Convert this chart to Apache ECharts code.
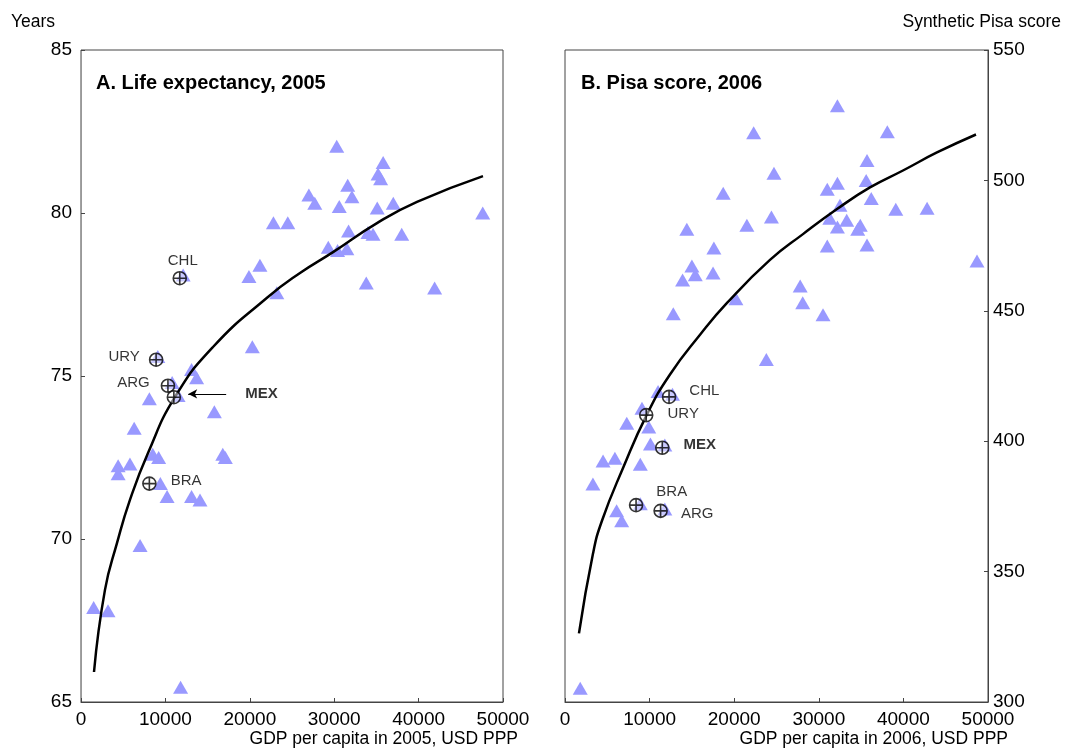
<!DOCTYPE html>
<html>
<head>
<meta charset="utf-8">
<script src="https://cdn.jsdelivr.net/npm/echarts@6/dist/echarts.min.js"></script>
<style>
  html, body { margin: 0; padding: 0; background: #fff; }
  #chart { width: 1065px; height: 751px; }
</style>
</head>
<body>
<div id="chart"></div>
<script>
// Panel A: life expectancy 2005 vs GDP per capita
var lifePoints = [
  [1500, 67.9], [3200, 67.8], [4400, 72.25], [5800, 72.3], [4400, 72.0], [7000, 69.8],
  [11800, 65.45], [6300, 73.4], [8100, 74.3], [9100, 75.6], [13100, 75.2], [13700, 74.95],
  [10800, 74.8], [11500, 74.4], [20300, 75.9], [15800, 73.9], [16800, 72.6], [17100, 72.5],
  [8500, 72.6], [9200, 72.5], [9400, 71.7], [10200, 71.3], [13100, 71.3], [14100, 71.2],
  [12100, 78.1], [21200, 78.4], [19900, 78.05], [23200, 77.55], [22800, 79.7], [24500, 79.7],
  [27000, 80.55], [27700, 80.3], [30300, 82.05], [35800, 81.55], [35200, 81.2], [35500, 81.05],
  [31600, 80.85], [32100, 80.5], [30600, 80.2], [35100, 80.15], [37000, 80.3], [47600, 80.0],
  [31700, 79.45], [34000, 79.4], [34600, 79.35], [38000, 79.35], [29300, 78.95], [30400, 78.85],
  [31500, 78.9], [33800, 77.85], [41900, 77.7]
];
var lifeFit = [
  [1540, 65.92], [2840, 68.44], [4270, 69.88], [5800, 71.2], [7940, 72.64], [11140, 74.36],
  [15640, 75.89], [22040, 77.4], [25950, 78.16], [29860, 78.8], [35070, 79.69], [39810, 80.34],
  [47630, 81.13]
];
var lifeCountries = ['CHL', 'URY', 'ARG', 'MEX', 'BRA'];
var lifeCountryX = [11700, 8900, 10300, 11000, 8100];
var lifeCountryY = [78.0, 75.5, 74.7, 74.35, 71.7];
var mexArrow = [[17200, 74.45], [12700, 74.45]];

// Panel B: synthetic Pisa score 2006 vs GDP per capita
var pisaPoints = [
  [1800, 305.3], [6100, 373.3], [6700, 369.5], [8900, 376], [11800, 374], [12800, 448.9],
  [20200, 454.6], [23800, 431.3], [12700, 418], [11000, 419.1], [9100, 412.6], [7300, 406.9],
  [9900, 405.4], [10100, 398.9], [11800, 398.5], [4500, 392.4], [5900, 393.5], [8900, 391.2],
  [3300, 383.6], [22300, 518.3], [24700, 502.7], [18700, 495.1], [14400, 481.3], [21500, 482.8],
  [24400, 486], [17600, 474.1], [15000, 467.2], [15400, 463.8], [17500, 464.5], [13900, 461.8],
  [32200, 528.6], [38100, 518.7], [35700, 507.6], [35600, 500], [32200, 498.9], [31000, 496.6],
  [36200, 493.1], [32500, 490.5], [39100, 488.9], [42800, 489.3], [31300, 485.5], [33300, 484.7],
  [32200, 482.1], [34900, 482.8], [34600, 481.3], [31000, 474.8], [35700, 475.2], [48700, 469.1],
  [27800, 459.5], [28100, 453.1], [30500, 448.5]
];
var pisaFit = [
  [1650, 326.3], [3310, 356.9], [4370, 369.5], [6860, 389.7], [9690, 410.3], [12410, 425.6],
  [15960, 440.8], [19150, 453.0], [24230, 469.5], [28130, 479.4], [32150, 489], [36050, 497.3],
  [39950, 503.8], [43970, 510.7], [48580, 517.6]
];
var pisaCountries = ['CHL', 'URY', 'MEX', 'BRA', 'ARG'];
var pisaCountryX = [12300, 9600, 11500, 8400, 11300];
var pisaCountryY = [417, 410, 397.5, 375.5, 373.3];

var FONT = '"Liberation Sans", Arial, sans-serif';
var TRI = '#9999ff';
var markerPath = 'path://M0,-6A6,6 0 1,1 0,6A6,6 0 1,1 0,-6ZM-6,0L6,0M0,-6L0,6';

// label placement (style only)
var lifeLabelPos = {
  CHL: { position: 'top', distance: 3, offset: [3, 0] },
  URY: { position: 'left', distance: 9, offset: [0, -3] },
  ARG: { position: 'left', distance: 11, offset: [0, -3] },
  MEX: { position: 'right', distance: 64, offset: [0, -3], fontWeight: 'bold' },
  BRA: { position: 'right', distance: 14, offset: [0, -3] }
};
var pisaLabelPos = {
  CHL: { position: 'right', distance: 13, offset: [0, -6] },
  URY: { position: 'right', distance: 14, offset: [0, -1] },
  MEX: { position: 'right', distance: 14, offset: [0, -3], fontWeight: 'bold' },
  BRA: { position: 'right', distance: 13, offset: [0, -13] },
  ARG: { position: 'right', distance: 13, offset: [0, 3] }
};

function countryData(names, xs, ys, pos) {
  return names.map(function (n, i) {
    var p = pos[n];
    return {
      name: n,
      value: [xs[i], ys[i]],
      label: {
        show: true, formatter: n, position: p.position, distance: p.distance,
        offset: p.offset, fontWeight: p.fontWeight || 'normal',
        color: '#000', fontSize: 15, fontFamily: FONT
      }
    };
  });
}

var axisLine = { show: true, onZero: false, lineStyle: { color: '#444', width: 1 } };
var tick = { show: true, inside: true, length: 4, lineStyle: { color: '#444' } };
var tickLabel = { color: '#000', fontSize: 19, fontFamily: FONT };

function xAxis(grid) {
  return {
    type: 'value', gridIndex: grid, min: 0, max: 50000, interval: 10000,
    axisLine: axisLine, axisTick: tick, splitLine: { show: false },
    axisLabel: Object.assign({ margin: 8, formatter: function (v) { return String(v); } }, tickLabel)
  };
}

var nameStyle = { fontSize: 17.5, fontFamily: FONT, fill: '#000' };

var chart = echarts.init(document.getElementById('chart'));
chart.setOption({
  animation: false,
  backgroundColor: '#fff',
  textStyle: { fontFamily: FONT },
  grid: [
    { left: 81, right: 562, top: 50, bottom: 49, show: true, borderColor: '#444', borderWidth: 1 },
    { left: 565, right: 77, top: 50, bottom: 49, show: true, borderColor: '#444', borderWidth: 1 }
  ],
  title: [
    { text: 'A. Life expectancy, 2005', left: 91, top: 68,
      textStyle: { fontSize: 20, fontWeight: 'bold', color: '#000', fontFamily: FONT } },
    { text: 'B. Pisa score, 2006', left: 576, top: 68,
      textStyle: { fontSize: 20, fontWeight: 'bold', color: '#000', fontFamily: FONT } }
  ],
  graphic: [
    { type: 'text', left: 11, top: 13, style: Object.assign({ text: 'Years' }, nameStyle) },
    { type: 'text', right: 4, top: 13, style: Object.assign({ text: 'Synthetic Pisa score' }, nameStyle) },
    { type: 'text', right: 547, top: 730, style: Object.assign({ text: 'GDP per capita in 2005, USD PPP' }, nameStyle) },
    { type: 'text', right: 57, top: 730, style: Object.assign({ text: 'GDP per capita in 2006, USD PPP' }, nameStyle) }
  ],
  xAxis: [xAxis(0), xAxis(1)],
  yAxis: [
    { type: 'value', gridIndex: 0, min: 65, max: 85, interval: 5,
      axisLine: { show: true, onZero: false, lineStyle: { color: '#999', width: 1 } },
      axisTick: tick, splitLine: { show: false },
      axisLabel: Object.assign({ margin: 9 }, tickLabel) },
    { type: 'value', gridIndex: 1, position: 'right', min: 300, max: 550, interval: 50,
      axisLine: axisLine, axisTick: tick, splitLine: { show: false },
      axisLabel: Object.assign({ margin: 5 }, tickLabel) }
  ],
  series: [
    { type: 'scatter', xAxisIndex: 0, yAxisIndex: 0, data: lifePoints,
      symbol: 'triangle', symbolSize: [15, 13], itemStyle: { color: TRI, opacity: 1 }, z: 2 },
    { type: 'line', xAxisIndex: 0, yAxisIndex: 0, data: lifeFit, smooth: true, showSymbol: false,
      lineStyle: { color: '#000', width: 2.5 }, z: 3 },
    { type: 'scatter', xAxisIndex: 0, yAxisIndex: 0,
      data: countryData(lifeCountries, lifeCountryX, lifeCountryY, lifeLabelPos),
      symbol: markerPath, symbolSize: 13,
      itemStyle: { color: 'rgba(255,255,255,0.6)', borderColor: '#000', borderWidth: 1.6 }, z: 4,
      markLine: {
        silent: true, symbol: ['none', 'arrow'], symbolSize: [7, 9],
        lineStyle: { color: '#000', width: 1, type: 'solid' }, label: { show: false },
        data: [[{ coord: mexArrow[0] }, { coord: mexArrow[1] }]]
      } },
    { type: 'scatter', xAxisIndex: 1, yAxisIndex: 1, data: pisaPoints,
      symbol: 'triangle', symbolSize: [15, 13], itemStyle: { color: TRI, opacity: 1 }, z: 2 },
    { type: 'line', xAxisIndex: 1, yAxisIndex: 1, data: pisaFit, smooth: true, showSymbol: false,
      lineStyle: { color: '#000', width: 2.5 }, z: 3 },
    { type: 'scatter', xAxisIndex: 1, yAxisIndex: 1,
      data: countryData(pisaCountries, pisaCountryX, pisaCountryY, pisaLabelPos),
      symbol: markerPath, symbolSize: 13,
      itemStyle: { color: 'rgba(255,255,255,0.6)', borderColor: '#000', borderWidth: 1.6 }, z: 4 }
  ]
});
</script>
</body>
</html>
